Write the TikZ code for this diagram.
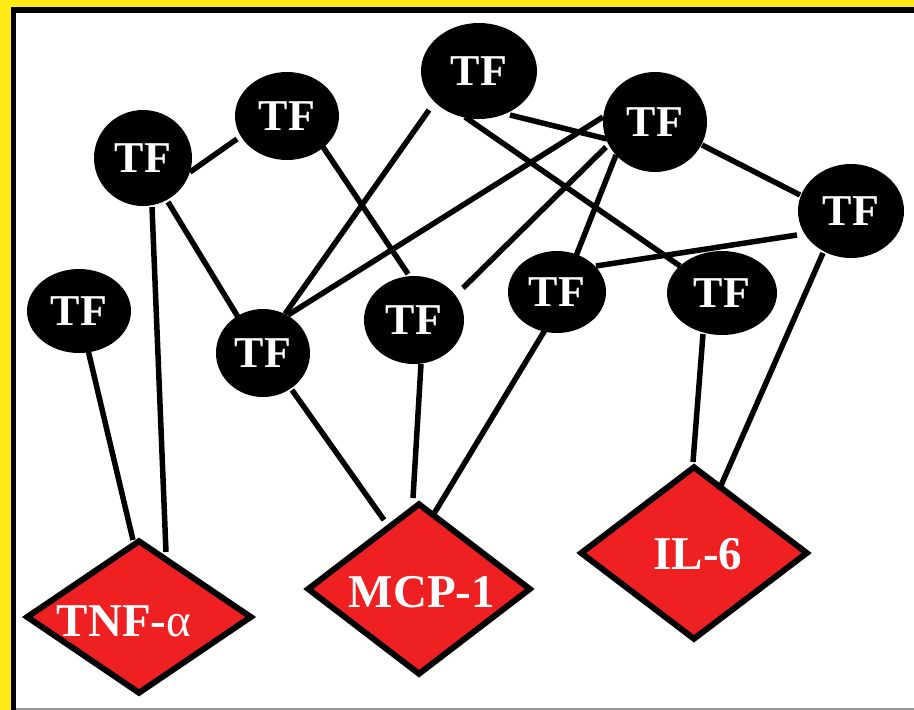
\documentclass[tikz,border=0pt]{standalone}
\usepackage{fontspec}
\setmainfont{Liberation Serif}
\usetikzlibrary{shapes.geometric,calc}

\definecolor{frameyellow}{RGB}{255,234,24}
\definecolor{genered}{RGB}{238,32,34}
\definecolor{rulegray}{RGB}{150,150,150}

\tikzset{
  tf/.style={ellipse, fill=black, inner sep=0pt, text=white,
    font=\fontsize{44}{44}\selectfont\bfseries},
  gene/.style={diamond, draw=black, line width=6pt, fill=genered, inner sep=0pt},
  genelabel/.style={text=white, inner sep=0pt,
    font=\fontsize{47}{47}\selectfont\bfseries},
  link/.style={draw=black, line width=5.5pt}
}

\begin{document}
\begin{tikzpicture}[x=1pt, y=-1pt]
  \useasboundingbox (0,0) rectangle (914,710);

  % frame: yellow band, black rule, white panel, grey bottom rule
  \fill[frameyellow] (0,0) rectangle (914,710);
  \fill[black] (10.7,7.3) rectangle (914,710);
  \fill[white] (16,13.3) rectangle (914,708.3);
  \fill[rulegray] (16,708.3) rectangle (914,710);

  % transcription factors
  \node[tf, minimum width=98pt,  minimum height=96pt]  (tf1)  at (143,158) {TF};
  \node[tf, minimum width=104pt, minimum height=88pt]  (tf2)  at (287,116) {TF};
  \node[tf, minimum width=116pt, minimum height=96pt]  (tf3)  at (479,71)  {TF};
  \node[tf, minimum width=104pt, minimum height=100pt] (tf4)  at (655,122) {TF};
  \node[tf, minimum width=106pt, minimum height=94pt]  (tf5)  at (851,211) {TF};
  \node[tf, minimum width=104pt, minimum height=84pt]  (tf6)  at (79,311)  {TF};
  \node[tf, minimum width=94pt,  minimum height=88pt]  (tf7)  at (263,353) {TF};
  \node[tf, minimum width=100pt, minimum height=88pt]  (tf8)  at (414,320) {TF};
  \node[tf, minimum width=98pt,  minimum height=82pt]  (tf9)  at (557,292) {TF};
  \node[tf, minimum width=110pt, minimum height=84pt]  (tf10) at (722,293) {TF};

  % target genes
  \node[gene, minimum width=226pt, minimum height=154pt] (tnf) at (139,617) {};
  \node[gene, minimum width=224pt, minimum height=172pt] (mcp) at (419,589) {};
  \node[gene, minimum width=228pt, minimum height=174pt] (il6) at (694,553) {};
  \node[genelabel] (tnftext) at (124,621) {TNF-{\mdseries α}};
  \node[genelabel] (mcptext) at (422,592) {MCP-1};
  \node[genelabel] (il6text) at (698,554) {IL-6};

  % interactions
  \draw[link] ($(tf1)+(47,14)$)   -- ($(tf2)+(-50,23)$);
  \draw[link] ($(tf1)+(9,49)$)    -- ($(tnf)+(27,-65)$);
  \draw[link] ($(tf1)+(25,44)$)   -- ($(tf7)+(-25,-36)$);
  \draw[link] ($(tf6)+(9,39)$)    -- ($(tnf)+(-6,-77)$);
  \draw[link] ($(tf2)+(36,31)$)   -- ($(tf8)+(-6,-46)$);
  \draw[link] ($(tf3)+(-50,39)$)  -- ($(tf7)+(22,-39)$);
  \draw[link] ($(tf3)+(-14,46)$)  -- ($(tf10)+(-42,-27)$);
  \draw[link] ($(tf3)+(31,44)$)   -- ($(tf4)+(-48,17)$);
  \draw[link] ($(tf4)+(-52,-5)$)  -- ($(tf7)+(25,-38)$);
  \draw[link] ($(tf4)+(-49,25)$)  -- ($(tf8)+(49,-32)$);
  \draw[link] ($(tf4)+(-39,33)$)  -- ($(tf9)+(19,-36)$);
  \draw[link] ($(tf4)+(47,23)$)   -- ($(tf5)+(-51,-16)$);
  \draw[link] ($(tf5)+(-54,24)$)  -- ($(tf9)+(39,-26)$);
  \draw[link] ($(tf5)+(-28,42)$)  -- ($(il6)+(25,-63)$);
  \draw[link] ($(tf10)+(-19,41)$) -- ($(il6)+(-1,-91)$);
  \draw[link] ($(tf7)+(29,37)$)   -- ($(mcp)+(-35,-69)$);
  \draw[link] ($(tf8)+(7,44)$)    -- ($(mcp)+(-6,-91)$);
  \draw[link] ($(tf9)+(-12,38)$)  -- ($(mcp)+(13,-72)$);
\end{tikzpicture}
\end{document}
